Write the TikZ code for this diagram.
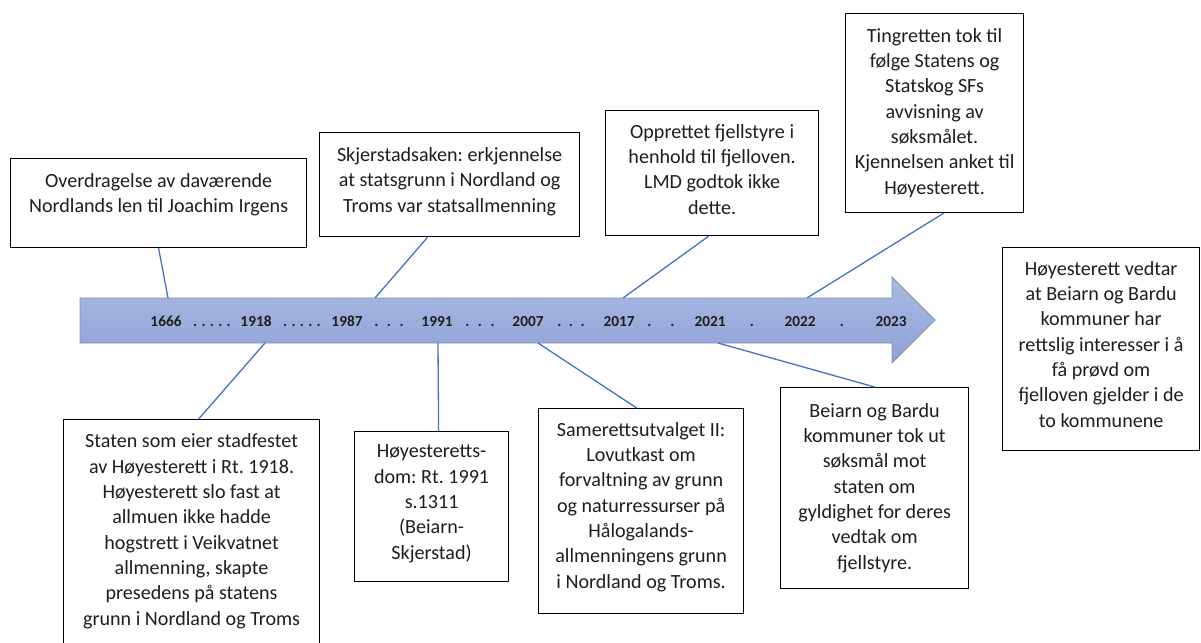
\documentclass[tikz,border=0pt]{standalone}
\usepackage{fontspec}
\setmainfont{Carlito}
\frenchspacing
\usetikzlibrary{calc}
\definecolor{conn}{RGB}{68,114,196}
\definecolor{arrowtop}{RGB}{170,186,228}
\definecolor{arrowbot}{RGB}{142,162,213}
\definecolor{arrowedge}{RGB}{135,145,170}
\definecolor{txtc}{RGB}{30,30,30}
\begin{document}
\begin{tikzpicture}[x=1pt,y=-1pt,
  evbox/.style={draw=black,line width=1.2pt,fill=white,inner sep=0pt,anchor=north west},
  evtxt/.style={align=center,inner sep=0pt,anchor=base,text=txtc,font=\fontsize{20.1}{25.3}\selectfont\frenchspacing},
  yr/.style={inner sep=0pt,anchor=base,font=\fontsize{15.3}{18}\selectfont\bfseries,text=txtc},
  link/.style={draw=conn,line width=1.3pt}]
\useasboundingbox (0,0) rectangle (1201,642);
\fill[white] (0,0) rectangle (1201,642);

% timeline arrow
\shade[top color=arrowtop,bottom color=arrowbot,draw=arrowedge,line width=0.8pt]
  (80,298) -- (892,298) -- (892,277) -- (935,320) -- (892,363) -- (892,343) -- (80,343) -- cycle;
\coordinate (a1666) at (168,298);
\coordinate (a1987) at (375,298);
\coordinate (a2017) at (623,298);
\coordinate (a2022) at (807,298);
\coordinate (a1918) at (265,343);
\coordinate (a1991) at (438,343);
\coordinate (a2007) at (538,343);
\coordinate (a2021) at (718,343);

% years
\node[yr] (y1666) at (166,326) {1666};
\node[yr] (y1918) at (256,326) {1918};
\node[yr] (y1987) at (347,326) {1987};
\node[yr] (y1991) at (437,326) {1991};
\node[yr] (y2007) at (528,326) {2007};
\node[yr] (y2017) at (619,326) {2017};
\node[yr] (y2021) at (710,326) {2021};
\node[yr] (y2022) at (800,326) {2022};
\node[yr] (y2023) at (891,326) {2023};
\node[yr] (d1) at (212,326) {.\hspace{4.3pt}.\hspace{4.3pt}.\hspace{4.3pt}.\hspace{4.3pt}.};
\node[yr] (d2) at (302,326) {.\hspace{4.3pt}.\hspace{4.3pt}.\hspace{4.3pt}.\hspace{4.3pt}.};
\node[yr] (d3) at (389,326) {.\hspace{8.5pt}.\hspace{8.5pt}.};
\node[yr] (d4) at (480,326) {.\hspace{8.5pt}.\hspace{8.5pt}.};
\node[yr] (d5) at (571,326) {.\hspace{7.5pt}.\hspace{7.5pt}.};
\node[yr] (d6) at (661,326) {.\hspace{19pt}.};
\node[yr] (d7) at (752,326) {.};
\node[yr] (d8) at (842,326) {.};

% boxes
\node[evbox,minimum width=296pt,minimum height=89pt] (b1) at (10,158) {};
\node[evbox,minimum width=260pt,minimum height=104pt] (b2) at (319,132) {};
\node[evbox,minimum width=213pt,minimum height=125pt] (b3) at (605,110) {};
\node[evbox,minimum width=178pt,minimum height=199pt] (b4) at (845,13) {};
\node[evbox,minimum width=197pt,minimum height=203pt] (b5) at (1002,247) {};
\node[evbox,minimum width=256pt,minimum height=240pt] (b6) at (63,419) {};
\node[evbox,minimum width=154pt,minimum height=150pt] (b7) at (354,431) {};
\node[evbox,minimum width=205pt,minimum height=205pt] (b8) at (538,408) {};
\node[evbox,minimum width=188pt,minimum height=201pt] (b9) at (780,387) {};

% texts (anchor = baseline of the last line)
\node[evtxt] (t1) at ([yshift=-54.5pt]b1.north) {Overdragelse av daværende\\Nordlands len til Joachim Irgens};
\node[evtxt] (t2) at ([yshift=-80pt]b2.north) {Skjerstadsaken: erkjennelse\\at statsgrunn i Nordland og\\Troms var statsallmenning};
\node[evtxt] (t3) at ([yshift=-104pt]b3.north) {Opprettet fjellstyre i\\henhold til fjelloven.\\LMD godtok ikke\\dette.};
\node[evtxt] (t4) at ([yshift=-181pt]b4.north) {Tingretten tok til\\følge Statens og\\Statskog SFs\\avvisning av\\søksmålet.\\Kjennelsen anket til\\Høyesterett.};
\node[evtxt] (t5) at ([yshift=-180pt]b5.north) {Høyesterett vedtar\\at Beiarn og Bardu\\kommuner har\\rettslig interesser i å\\få prøvd om\\fjelloven gjelder i de\\to kommunene};
\node[evtxt] (t6) at ([yshift=-206pt]b6.north) {Staten som eier stadfestet\\av Høyesterett i Rt. 1918.\\Høyesterett slo fast at\\allmuen ikke hadde\\hogstrett i Veikvatnet\\allmenning, skapte\\presedens på statens\\grunn i Nordland og Troms};
\node[evtxt] (t7) at ([yshift=-128pt]b7.north) {Høyesteretts-\\dom: Rt. 1991\\s.1311\\(Beiarn-\\Skjerstad)};
\node[evtxt] (t8) at ([yshift=-180pt]b8.north) {Samerettsutvalget II:\\Lovutkast om\\forvaltning av grunn\\og naturressurser på\\Hålogalands-\\allmenningens grunn\\i Nordland og Troms.};
\node[evtxt] (t9) at ([yshift=-182pt]b9.north) {Beiarn og Bardu\\kommuner tok ut\\søksmål mot\\staten om\\gyldighet for deres\\vedtak om\\fjellstyre.};

% connectors
\draw[link] (b1.south) -- (a1666);
\draw[link] ([xshift=-22pt]b2.south) -- (a1987);
\draw[link] ([xshift=-3.5pt]b3.south) -- (a2017);
\draw[link] ([xshift=9pt]b4.south) -- (a2022);
\draw[link] ([xshift=7pt]b6.north) -- (a1918);
\draw[link] ([xshift=7pt]b7.north) -- (a1991);
\draw[link] ([xshift=-4.5pt]b8.north) -- (a2007);
\draw[link] (b9.north) -- (a2021);
\end{tikzpicture}
\end{document}
